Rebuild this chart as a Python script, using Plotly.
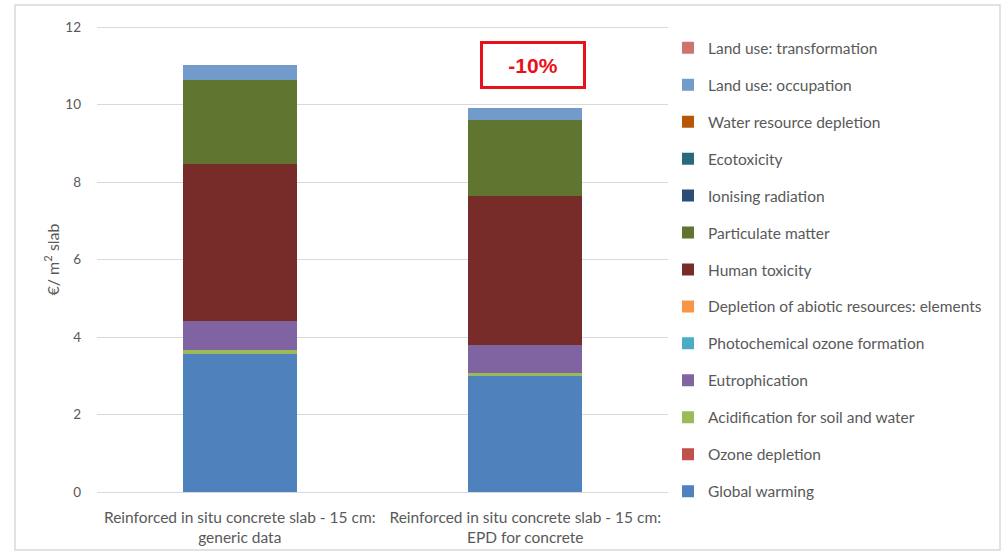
import plotly.graph_objects as go

categories = ["Reinforced in situ concrete slab - 15 cm:<br>generic data",
              "Reinforced in situ concrete slab - 15 cm:<br>EPD for concrete"]

series_names = ["Global warming", "Ozone depletion", "Acidification for soil and water",
                "Eutrophication", "Photochemical ozone formation",
                "Depletion of abiotic resources: elements", "Human toxicity",
                "Particulate matter", "Ionising radiation", "Ecotoxicity",
                "Water resource depletion", "Land use: occupation", "Land use: transformation"]

global_warming = [3.56, 2.99]
ozone_depletion = [0.0, 0.0]
acidification = [0.11, 0.09]
eutrophication = [0.74, 0.71]
photochemical = [0.0, 0.0]
abiotic = [0.0, 0.0]
human_toxicity = [4.05, 3.85]
particulate = [2.17, 1.96]
ionising = [0.0, 0.0]
ecotoxicity = [0.0, 0.0]
water = [0.0, 0.0]
land_occupation = [0.40, 0.31]
land_transformation = [0.0, 0.0]

series_values = [global_warming, ozone_depletion, acidification, eutrophication,
                 photochemical, abiotic, human_toxicity, particulate, ionising,
                 ecotoxicity, water, land_occupation, land_transformation]

colors = ["#4F81BD", "#C0504D", "#9BBB59", "#8064A2", "#4BACC6", "#F79646",
          "#772C2A", "#5F7530", "#2C4D75", "#276A7C", "#B65708", "#729ACA", "#CD7371"]

y_ticks = [0, 2, 4, 6, 8, 10, 12]
y_title = "€/ m<sup>2</sup> slab"

# plot area spans y pixels 0..492; 12 units = 465 px
PX_PER_UNIT = 465 / 12
PLOT_H = 492
y_top = PLOT_H / PX_PER_UNIT

fig = go.Figure()
n = len(series_names)
for i, (name, vals) in enumerate(zip(series_names, series_values)):
    fig.add_trace(go.Bar(x=categories, y=vals, name=name, marker_color=colors[i],
                         marker_line_width=0, legendgroup=f"g{i}", legendrank=n - i))

fig.add_annotation(x=categories[1], y=11.02, xref="x", yref="y", text="<b>-10%</b>",
                   showarrow=False, font=dict(family="Liberation Sans, Arial", size=21, color="#E8101A"),
                   bordercolor="#E8101A", borderwidth=3, width=98, height=40, xshift=8,
                   bgcolor="white")

# y-axis title centred on the 0..12 range
fig.add_annotation(x=(52 - 97) / 571, y=6, xref="paper", yref="y", text=y_title,
                   textangle=-90, showarrow=False, xanchor="center", yanchor="middle",
                   font=dict(size=16, color="#595959"))

fig.add_shape(type="rect", xref="paper", yref="paper",
              x0=(15 - 97) / 571, x1=(1000 - 97) / 571,
              y0=(492 - 550) / PLOT_H, y1=(492 - 5) / PLOT_H,
              line=dict(color="#D9D9D9", width=1.5), layer="below")

fig.update_layout(
    width=1006, height=553,
    margin=dict(l=97, r=338, t=0, b=61, autoexpand=False),
    barmode="stack", bargap=0.6,
    paper_bgcolor="white", plot_bgcolor="white",
    font=dict(family="Lato, Open Sans, sans-serif", size=14, color="#595959"),
    showlegend=True,
    legend=dict(traceorder="grouped", tracegroupgap=13.8,
                x=1.0, xanchor="left", y=(492 - 31.2) / PLOT_H, yanchor="top",
                font=dict(size=15.5, color="#595959"), itemwidth=30,
                bgcolor="rgba(0,0,0,0)", maxheight=1.0),
    yaxis=dict(range=[0, y_top], tickvals=y_ticks, showgrid=True, gridcolor="#D9D9D9",
               zeroline=False, showline=False, ticklabelstandoff=15, automargin=False,
               tickfont=dict(size=13.5)),
    xaxis=dict(showline=True, linecolor="#D9D9D9", linewidth=1, ticklabelstandoff=11,
               automargin=False, tickfont=dict(size=15.5)),
)

fig.write_html("out.html")
